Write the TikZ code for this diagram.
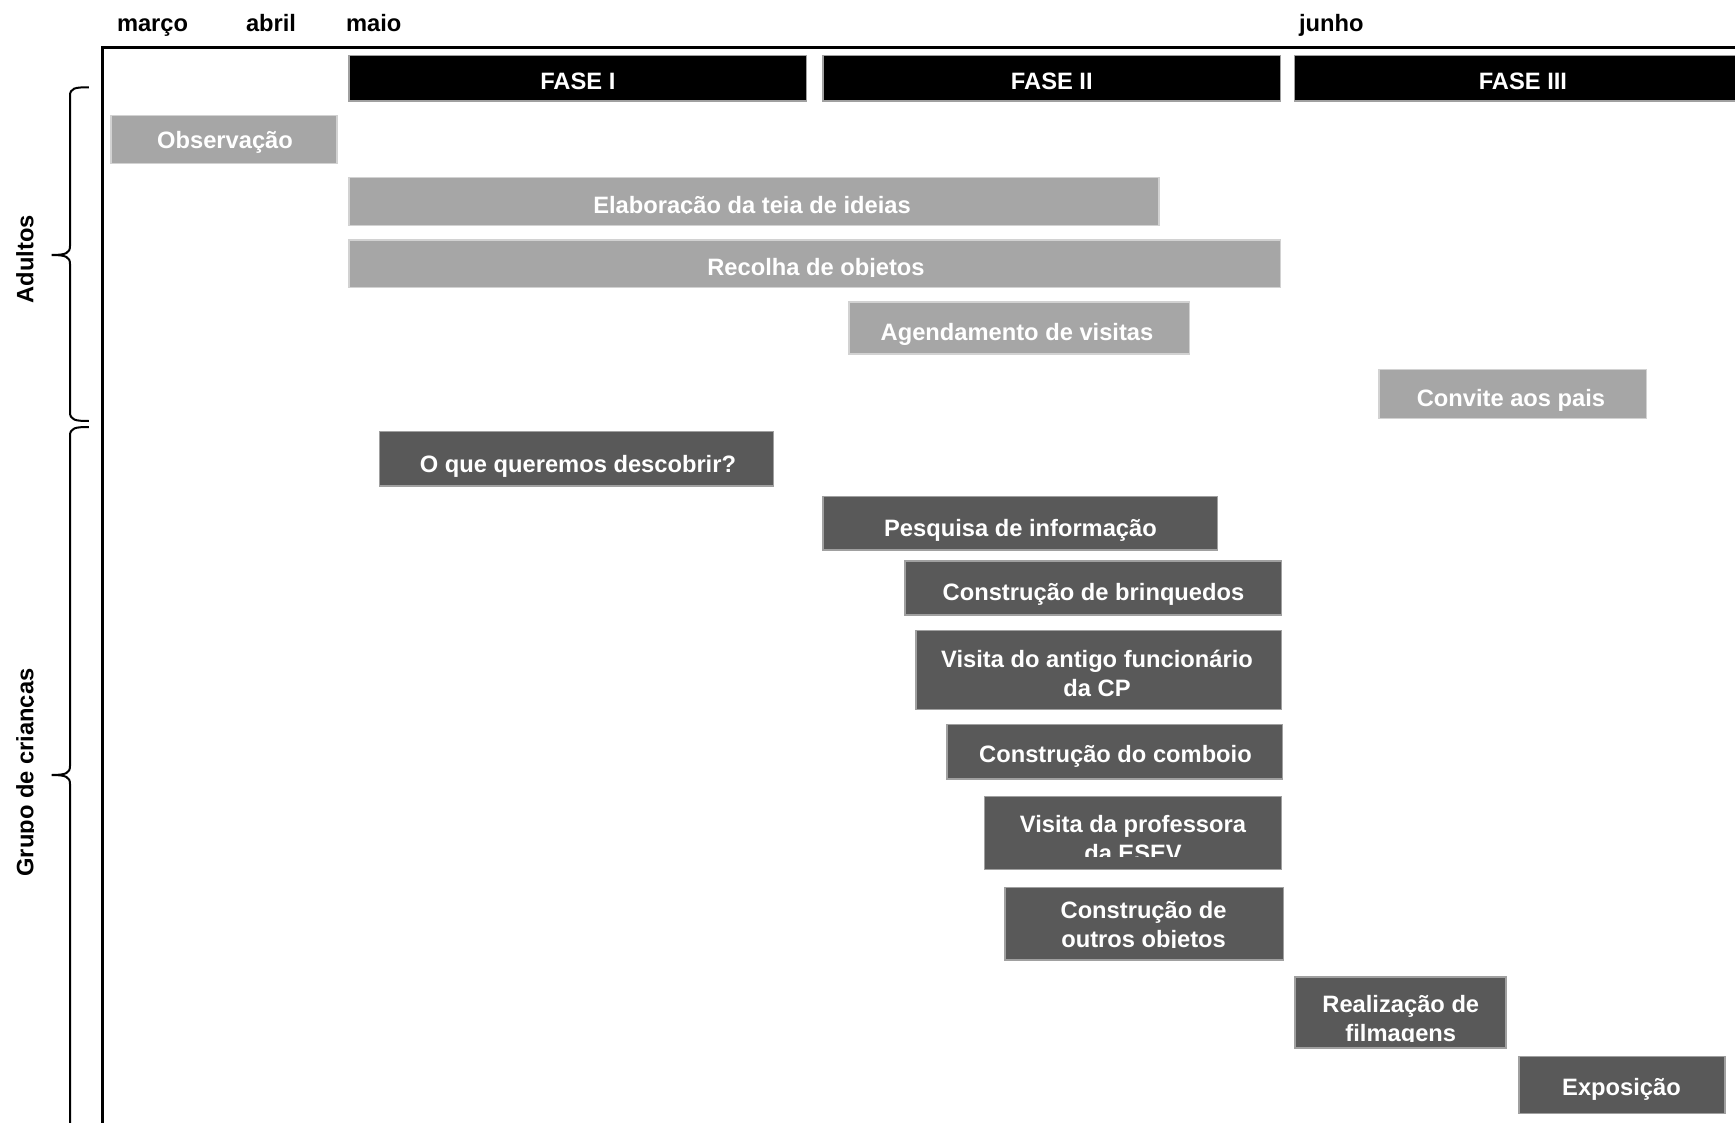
\documentclass[tikz,border=0pt]{standalone}
\usepackage{fontspec}
\setmainfont{Liberation Sans}
\definecolor{lightbar}{HTML}{A6A6A6}
\definecolor{darkbar}{HTML}{595959}
\definecolor{lightedge}{HTML}{D2D2D2}
\definecolor{darkedge}{HTML}{A0A0A0}
\begin{document}
\begin{tikzpicture}[x=1pt,y=-1pt,
  every node/.style={font=\fontsize{23.7}{29}\selectfont\bfseries, inner sep=0pt, outer sep=0pt},
  lbox/.style={rectangle, fill=lightbar, draw=lightedge, line width=1.2pt},
  dbox/.style={rectangle, fill=darkbar, draw=darkedge, line width=1.2pt},
  phasebox/.style={rectangle, fill=black, draw=darkedge, line width=1.2pt},
  wtxt/.style={text=white, anchor=base},
  btxt/.style={text=black, anchor=base},
  framestyle/.style={line width=2.5pt, black},
  bracestyle/.style={line width=2pt, black}]
\useasboundingbox (0,0) rectangle (1735,1123);
\clip (0,0) rectangle (1735,1123);
\fill[white] (0,0) rectangle (1735,1123);

% month labels
\node[btxt, anchor=base west] (marco) at (117,31.7) {março};
\node[btxt, anchor=base west] (abril) at (246,31.7) {abril};
\node[btxt, anchor=base west] (maio) at (346,31.7) {maio};
\node[btxt, anchor=base west] (junho) at (1299,31.7) {junho};

% frame
\draw[framestyle] (1740,47.5) -- (102.6,47.5) -- (102.6,1130);

% phases
\node[phasebox, minimum width=457.7pt, minimum height=45.3pt] (f1) at (577.85,78.35) {};
\node[phasebox, minimum width=457.6pt, minimum height=45.3pt] (f2) at (1051.8,78.35) {};
\node[phasebox, minimum width=456.2pt, minimum height=45.3pt] (f3) at (1522.9,78.35) {};
\node[wtxt] (f1t) at (577.85,89.5) {FASE I};
\node[wtxt] (f2t) at (1051.8,89.5) {FASE II};
\node[wtxt] (f3t) at (1522.9,89.5) {FASE III};

% adult bars
\node[lbox, minimum width=226pt, minimum height=47.6pt] (obs) at (224,139.5) {};
\node[wtxt] (obst) at (225,149) {Observação};
\node[lbox, minimum width=810pt, minimum height=47.6pt] (elab) at (754,201.5) {};
\begin{scope}
\clip (349,178) rectangle (1159,213.8);
\node[wtxt] (elabt) at (752,213.5) {Elaboração da teia de ideias};
\end{scope}
\node[lbox, minimum width=931.6pt, minimum height=47.3pt] (rec) at (814.8,263.65) {};
\begin{scope}
\clip (349,240) rectangle (1280,276.3);
\node[wtxt] (rect) at (816,276) {Recolha de objetos};
\end{scope}
\node[lbox, minimum width=340.5pt, minimum height=52pt] (agenda) at (1019.25,328) {};
\node[wtxt] (agendat) at (1017,341) {Agendamento de visitas};
\node[lbox, minimum width=267.6pt, minimum height=49.2pt] (convite) at (1512.8,394) {};
\node[wtxt] (convitet) at (1511,406) {Convite aos pais};

% children bars
\node[dbox, minimum width=394pt, minimum height=54.5pt] (oque) at (576.5,458.75) {};
\node[wtxt] (oquet) at (578,472) {O que queremos descobrir?};
\node[dbox, minimum width=394.3pt, minimum height=53.5pt] (pesq) at (1020.15,523.25) {};
\node[wtxt] (pesqt) at (1020.5,536.7) {Pesquisa de informação};
\node[dbox, minimum width=376.3pt, minimum height=54pt] (brinq) at (1093.15,588) {};
\node[wtxt] (brinqt) at (1093.5,600.7) {Construção de brinquedos};
\node[dbox, minimum width=365.7pt, minimum height=79pt] (visita) at (1098.85,670) {};
\node[wtxt] (visitat) at (1097,667.7) {\begin{tabular}[t]{@{}c@{}}Visita do antigo funcionário\\da CP\end{tabular}};
\node[dbox, minimum width=335.3pt, minimum height=54.7pt] (comboio) at (1114.65,751.65) {};
\node[wtxt] (comboiot) at (1115.5,762.7) {Construção do comboio};
\node[dbox, minimum width=297.4pt, minimum height=72.6pt] (esev) at (1133,833) {};
\begin{scope}
\clip (984.3,797) rectangle (1281.7,856.7);
\node[wtxt] (esevt) at (1133,832.7) {\begin{tabular}[t]{@{}c@{}}Visita da professora\\da ESEV\end{tabular}};
\end{scope}
\node[dbox, minimum width=278.6pt, minimum height=72.3pt] (outros) at (1144.3,923.85) {};
\begin{scope}
\clip (1005,888) rectangle (1283.6,947.3);
\node[wtxt] (outrost) at (1143.6,918.3) {\begin{tabular}[t]{@{}c@{}}Construção de\\outros objetos\end{tabular}};
\end{scope}
\node[dbox, minimum width=211pt, minimum height=71pt] (film) at (1400.5,1012.5) {};
\begin{scope}
\clip (1295,977.5) rectangle (1506,1041.8);
\node[wtxt] (filmt) at (1400.8,1012.5) {\begin{tabular}[t]{@{}c@{}}Realização de\\filmagens\end{tabular}};
\end{scope}
\node[dbox, minimum width=206pt, minimum height=56.6pt] (expo) at (1622,1085) {};
\node[wtxt] (expot) at (1621.5,1095) {Exposição};

% braces and group labels
\draw[bracestyle] (88.8,87.3) .. controls (75,87.3) and (70,88) .. (70,96) -- (70,246)
  .. controls (70,253) and (66,255) .. (51.7,255)
  .. controls (66,255) and (70,257) .. (70,264) -- (70,412)
  .. controls (70,420) and (75,421) .. (88.8,421);
\draw[bracestyle] (88.8,427) .. controls (75,427) and (70,428) .. (70,436) -- (70,766)
  .. controls (70,773) and (66,775) .. (51.7,775)
  .. controls (66,775) and (70,777) .. (70,784) -- (70,1135);
\node[btxt, rotate=90] (adultos) at (33.3,259.2) {Adultos};
\begin{scope}
\clip (0,600) rectangle (33.6,950);
\node[btxt, rotate=90] (grupo) at (33.3,772.5) {Grupo de crianças};
\end{scope}
\end{tikzpicture}
\end{document}
